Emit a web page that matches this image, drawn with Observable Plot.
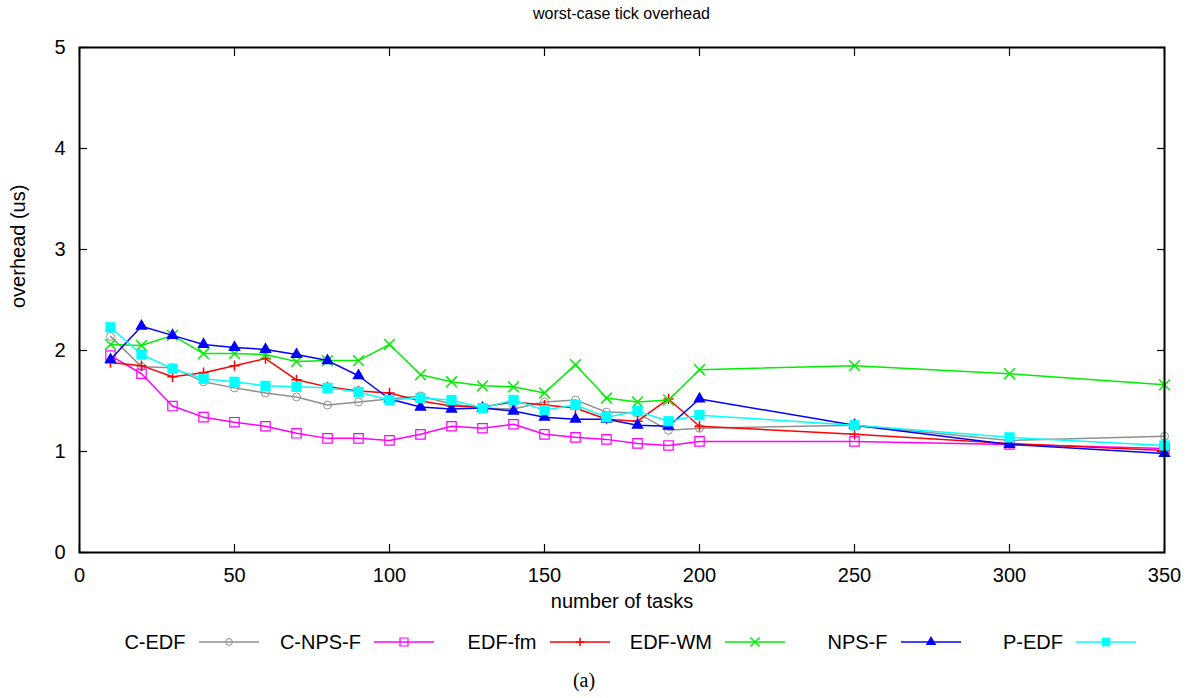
<!DOCTYPE html>
<html>
<head>
<meta charset="utf-8">
<script src="https://cdn.jsdelivr.net/npm/d3@7"></script>
<script src="https://cdn.jsdelivr.net/npm/@observablehq/plot@0.6"></script>
<style>
  html, body { margin: 0; padding: 0; background: #fff; }
  body { width: 1194px; height: 698px; overflow: hidden; font-family: "Liberation Sans", Arial, sans-serif; color: #000; }
  #title { height: 30px; line-height: 28px; padding-left: 79px; width: 1085px; text-align: center; font-size: 16px; }
  #chart svg { display: block; }
  #legend { height: 44px; display: flex; align-items: center; padding-left: 83px; }
  .entry { width: 175.5px; flex: none; display: flex; align-items: center; }
  .entry span { flex: 1; text-align: right; font-size: 20px; white-space: nowrap; }
  .entry svg { flex: none; display: block; }
  #caption { height: 34px; line-height: 32px; width: 1168px; text-align: center; font-family: "Liberation Serif", "Times New Roman", serif; font-size: 20px; }
</style>
</head>
<body>
<div id="title">worst-case tick overhead</div>
<div id="chart"></div>
<div id="legend"></div>
<div id="caption">(a)</div>
<script>
// ---- data ----
const tasks = [10,20,30,40,50,60,70,80,90,100,110,120,130,140,150,160,170,180,190,200,250,300,350];
const seriesNames = ["C-EDF", "C-NPS-F", "EDF-fm", "EDF-WM", "NPS-F", "P-EDF"];
const cEDF  = [2.14,1.84,1.83,1.69,1.63,1.58,1.54,1.46,1.49,1.52,1.55,1.47,1.43,1.42,1.49,1.51,1.39,1.38,1.21,1.23,1.26,1.11,1.15];
const cNPSF = [1.95,1.77,1.45,1.34,1.29,1.25,1.18,1.13,1.13,1.11,1.17,1.25,1.23,1.27,1.17,1.14,1.12,1.08,1.06,1.10,1.10,1.07,1.03];
const edfFm = [1.88,1.85,1.74,1.78,1.85,1.92,1.71,1.64,1.60,1.58,1.50,1.45,1.44,1.49,1.46,1.43,1.32,1.30,1.52,1.25,1.17,1.08,1.01];
const edfWM = [2.06,2.05,2.15,1.97,1.97,1.96,1.89,1.90,1.90,2.06,1.76,1.69,1.65,1.64,1.58,1.86,1.53,1.49,1.51,1.81,1.85,1.77,1.66];
const npsF  = [1.91,2.24,2.15,2.06,2.03,2.01,1.96,1.90,1.75,1.52,1.44,1.42,1.43,1.40,1.34,1.32,1.32,1.26,1.25,1.52,1.26,1.07,0.98];
const pEDF  = [2.23,1.96,1.82,1.72,1.69,1.65,1.64,1.63,1.59,1.51,1.53,1.51,1.43,1.51,1.41,1.46,1.34,1.40,1.30,1.36,1.26,1.14,1.06];
const xTicks = [0,50,100,150,200,250,300,350];
const yTicks = [0,1,2,3,4,5];
const seriesValues = [cEDF, cNPSF, edfFm, edfWM, npsF, pEDF];

// ---- styles ----
const styles = [
  {color: "#909090", symbol: "circle",   r: 4.0, fill: "none", stroke: "#909090", sw: 1},
  {color: "#ff00ff", symbol: "square",   r: 5.3, fill: "none", stroke: "#ff00ff", sw: 1.2},
  {color: "#ff0000", symbol: "plus",     r: 3.4, fill: "none", stroke: "#ff0000", sw: 1.5},
  {color: "#00ee00", symbol: "times",    r: 5.0, fill: "none", stroke: "#00ee00", sw: 1.5},
  {color: "#0000ff", symbol: "triangle", r: 4.6, fill: "#0000ff", stroke: "none", sw: 0},
  {color: "#00ffff", symbol: "square",   r: 5.8, fill: "#00ffff", stroke: "none", sw: 0}
];

const marks = [];
seriesValues.forEach((vals, i) => {
  const rows = tasks.map((t, j) => ({tasks: t, value: vals[j], series: seriesNames[i]}));
  const s = styles[i];
  marks.push(Plot.line(rows, {x: "tasks", y: "value", stroke: s.color, strokeWidth: 1.5}));
  marks.push(Plot.dot(rows, {x: "tasks", y: "value", symbol: () => s.symbol, r: s.r, fill: s.fill, stroke: s.stroke, strokeWidth: s.sw}));
});

const chart = Plot.plot({
  width: 1194,
  height: 590,
  marginLeft: 79,
  marginRight: 30,
  marginTop: 17,
  marginBottom: 68,
  style: {fontSize: "20px", fontFamily: "'Liberation Sans', Arial, sans-serif", color: "#000", background: "#fff"},
  x: {domain: [0, 350], label: null},
  y: {domain: [0, 5], label: null},
  symbol: {type: "identity"},
  marks: [
    // labels
    Plot.axisX(xTicks, {anchor: "bottom", tickSize: 0, tickPadding: 15, tickFormat: d3.format("d"), label: null}),
    Plot.axisY(yTicks, {anchor: "left", tickSize: 0, tickPadding: 14, tickFormat: d3.format("d"), label: null}),
    // inward ticks
    Plot.axisX(xTicks, {anchor: "bottom", tickSize: 8, dy: -8, tickFormat: () => "", label: null, strokeWidth: 1.2}),
    Plot.axisX(xTicks, {anchor: "top", tickSize: 8, dy: 8, tickFormat: () => "", label: null, strokeWidth: 1.2}),
    Plot.axisY(yTicks, {anchor: "left", tickSize: 8, dx: 8, tickFormat: () => "", label: null, strokeWidth: 1.2}),
    Plot.axisY(yTicks, {anchor: "right", tickSize: 8, dx: -8, tickFormat: () => "", label: null, strokeWidth: 1.2}),
    ...marks,
    Plot.frame({stroke: "#000", strokeWidth: 2}),
    Plot.text(["number of tasks"], {frameAnchor: "bottom", dy: 55, fontSize: 20}),
    Plot.text(["overhead (us)"], {frameAnchor: "left", dx: -61, dy: 8, rotate: -90, fontSize: 20})
  ]
});
document.getElementById("chart").appendChild(chart);

// ---- legend ----
const symbolTypes = {circle: d3.symbolCircle, square: d3.symbolSquare, plus: d3.symbolPlus, times: d3.symbolTimes, triangle: d3.symbolTriangle};
const legend = d3.select("#legend");
seriesNames.forEach((name, i) => {
  const s = styles[i];
  const e = legend.append("div").attr("class", "entry");
  e.append("span").text(name);
  const svg = e.append("svg").attr("width", 73).attr("height", 20);
  svg.append("line").attr("x1", 13).attr("x2", 73).attr("y1", 10).attr("y2", 10)
    .attr("stroke", s.color).attr("stroke-width", 1.5);
  const rr = s.r * 0.85;
  svg.append("path")
    .attr("transform", "translate(43,10)")
    .attr("d", d3.symbol(symbolTypes[s.symbol], Math.PI * rr * rr)())
    .attr("fill", s.fill).attr("stroke", s.stroke).attr("stroke-width", s.sw || null);
});
</script>
</body>
</html>
